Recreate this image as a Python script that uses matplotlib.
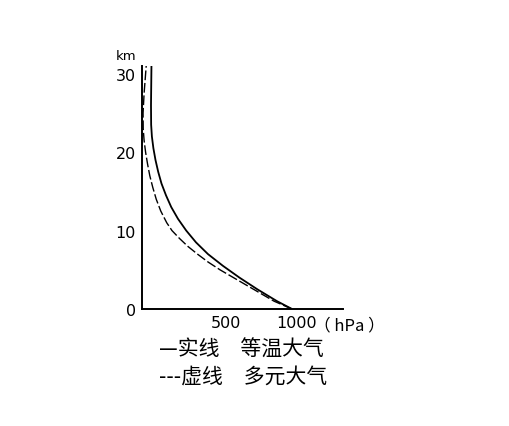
import matplotlib.pyplot as plt
from matplotlib.transforms import ScaledTranslation

plt.rcParams['font.family'] = ['Noto Sans CJK SC', 'DejaVu Sans']

# 等温大气 (实线): 气压 hPa, 高度 km
solid_p = [1000, 900, 770, 650, 540, 440, 360, 295, 240, 195, 160, 130, 108, 90, 76, 66, 61, 60, 63]
solid_z = [0, 1.0, 2.5, 4.0, 5.5, 7.0, 8.5, 10.0, 11.5, 13.0, 14.5, 16.0, 17.5, 19.0, 20.5, 22.0, 23.5, 26, 31]

# 多元大气 (虚线)
dash_p = [1000, 880, 790, 700, 610, 520, 440, 370, 305, 250, 200, 165, 125, 95, 72, 52, 37, 24, 14, 8, 7, 14, 28]
dash_z = [0, 1.0, 2.0, 3.0, 4.0, 5.0, 6.0, 7.0, 8.0, 9.0, 10.0, 11.0, 12.5, 14, 15.5, 17, 18.5, 20, 21.5, 23, 25, 27.5, 31]

y_ticks = [0, 10, 20, 30]
x_ticks = [500, 1000]
x_labels = ['500', '1000']

fig = plt.figure(figsize=(5.09, 4.27), dpi=100)
ax = fig.add_axes([142 / 509, 117 / 427, 201 / 509, 243 / 427])

ax.plot(solid_p, solid_z, color='black', linewidth=1.3, solid_capstyle='butt')
ax.plot(dash_p, dash_z, color='black', linewidth=1.0, dashes=(7, 2))

ax.set_xlim(0, 1340)
ax.set_ylim(0, 31)
for s in ['top', 'right']:
    ax.spines[s].set_visible(False)
ax.spines['left'].set_linewidth(1.4)
ax.spines['bottom'].set_linewidth(1.4)

ax.set_yticks(y_ticks)
ax.set_yticklabels([str(v) for v in y_ticks], fontsize=11.5, family='DejaVu Sans')
ax.set_xticks(x_ticks)
ax.set_xticklabels(x_labels, fontsize=11.5, family='DejaVu Sans')
ax.tick_params(length=0)
ax.tick_params(axis='y', pad=4.5)
ax.tick_params(axis='x', pad=4)
shifts = [9, 5]
for lab, dx in zip(ax.get_xticklabels(), shifts):
    lab.set_transform(lab.get_transform() + ScaledTranslation(dx / 100, 0, fig.dpi_scale_trans))

fig.text(314 / 509, 1 - 326 / 427, '（ hPa ）', fontsize=12, ha='left', va='center')
fig.text(126 / 509, 1 - 56 / 427, 'km', fontsize=9.5, family='DejaVu Sans', ha='center', va='center')

fig.text(159 / 509, 1 - 350 / 427, '—实线　等温大气', fontsize=15, va='center')
fig.text(159 / 509, 1 - 377 / 427, '---虚线　多元大气', fontsize=15, va='center')

fig.savefig('out.png', dpi=100)
